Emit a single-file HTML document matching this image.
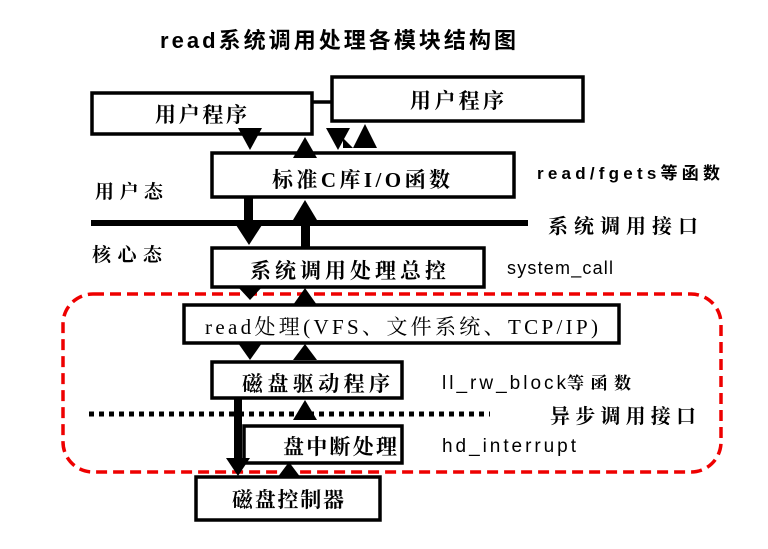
<!DOCTYPE html>
<html><head><meta charset="utf-8"><style>
html,body{margin:0;padding:0;background:#fff;width:768px;height:549px;overflow:hidden}
svg text{font-family:"Liberation Serif","Noto Serif CJK SC",serif;fill:#000}
.s{font-family:"Liberation Sans","Noto Sans CJK SC",sans-serif}
</style></head><body>
<svg width="768" height="549" viewBox="0 0 768 549" xmlns="http://www.w3.org/2000/svg">
<text x="160" y="48" class="s" font-size="22" font-weight="bold" textLength="356" lengthAdjust="spacing">read系统调用处理各模块结构图</text>
<g fill="none" stroke="#000" stroke-width="3.5">
<rect x="92" y="93" width="220" height="41"/>
<rect x="332" y="77" width="251" height="44"/>
<line x1="312" y1="102" x2="332" y2="102"/>
<rect x="212" y="153" width="302" height="44"/>
<rect x="212" y="248" width="272" height="39"/>
<rect x="184" y="305" width="435" height="38"/>
<rect x="212" y="362" width="190" height="36"/>
<rect x="244" y="426" width="158" height="37"/>
<rect x="196" y="477" width="184" height="43"/>
</g>
<line x1="91" y1="223" x2="528" y2="223" stroke="#000" stroke-width="6"/>
<line x1="89" y1="414" x2="490" y2="414" stroke="#000" stroke-width="5" stroke-dasharray="5,5"/>
<rect x="63" y="294" width="658" height="178" rx="30" fill="none" stroke="#e00" stroke-width="3.5" stroke-dasharray="11,6"/>
<g fill="#000" stroke="none">
<polygon points="238,128 262,128 250,150"/>
<polygon points="293,158 317,158 305,137"/>
<polygon points="326,128 350,128 338,150"/>
<polygon points="353,148 377,148 365,124"/>
<polygon points="343,148 353,148 343,138" />
<rect x="244" y="197" width="9" height="30"/>
<polygon points="236,225 262,225 249,245"/>
<rect x="301" y="218" width="9" height="30"/>
<polygon points="293,220 317,220 305,200"/>
<polygon points="238,287 262,287 250,300"/>
<polygon points="293,305 317,305 305,288"/>
<polygon points="238,343 262,343 250,360"/>
<polygon points="293,360 317,360 305,344"/>
<rect x="234" y="398" width="8" height="62"/>
<polygon points="226,458 250,458 238,476"/>
<polygon points="293,420 317,420 305,400"/>
<polygon points="277,478 301,478 289,462"/>
</g>
<g font-size="21" font-weight="bold">
<text x="155" y="122" textLength="92" lengthAdjust="spacing">用户程序</text>
<text x="410" y="108" textLength="94" lengthAdjust="spacing">用户程序</text>
<text x="272" y="187" textLength="178" lengthAdjust="spacing">标准C库I/O函数</text>
<text x="250" y="278" textLength="196" lengthAdjust="spacing">系统调用处理总控</text>
<text x="205" y="334" font-weight="normal" font-size="21" textLength="393" lengthAdjust="spacing">read处理(VFS、文件系统、TCP/IP)</text>
<text x="242" y="391" textLength="148" lengthAdjust="spacing">磁盘驱动程序</text>
<text x="283" y="454" textLength="114" lengthAdjust="spacing">盘中断处理</text>
<text x="232" y="507" textLength="112" lengthAdjust="spacing">磁盘控制器</text>
<text x="95" y="198" font-size="19" textLength="68" lengthAdjust="spacing">用户态</text>
<text x="92" y="261" font-size="19" textLength="70" lengthAdjust="spacing">核心态</text>
<text x="548" y="233" font-size="20" textLength="150" lengthAdjust="spacing">系统调用接口</text>
<text x="550" y="423" font-size="20" textLength="146" lengthAdjust="spacing">异步调用接口</text>
</g>
<text x="537" y="179" font-size="17" font-weight="bold" class="s" textLength="183" lengthAdjust="spacing">read/fgets等函数</text>
<text x="507" y="274" font-size="18" class="s" textLength="106" lengthAdjust="spacing">system_call</text>
<text x="442" y="389" font-size="19" class="s" textLength="124" lengthAdjust="spacing">ll_rw_block</text>
<text x="567" y="389" font-size="17" font-weight="bold" textLength="64" lengthAdjust="spacing">等函数</text>
<text x="442" y="452" font-size="19" class="s" textLength="134" lengthAdjust="spacing">hd_interrupt</text>
</svg>
</body></html>
